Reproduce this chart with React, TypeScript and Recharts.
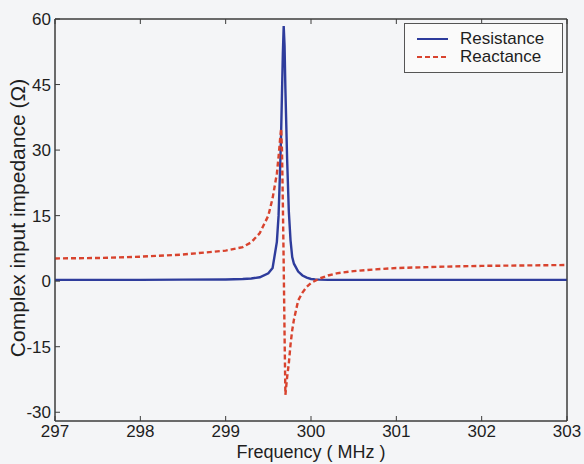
import React from 'react';
import { LineChart, Line, XAxis, YAxis, Legend, Label, ReferenceArea } from 'recharts';

// frequency samples (MHz) and values (ohms)
const freq = [
  297, 297.5, 298, 298.5, 299, 299.2, 299.3, 299.4, 299.5, 299.55, 299.6, 299.62, 299.64,
  299.65, 299.66, 299.67, 299.68, 299.69, 299.7, 299.72, 299.74, 299.76, 299.78, 299.8,
  299.85, 299.9, 299.95, 300, 300.05, 300.1, 300.2, 300.3, 300.5, 300.75, 301, 301.5, 302,
  302.5, 303,
];
const resistance = [
  0.3, 0.3, 0.3, 0.35, 0.4, 0.5, 0.6, 0.9, 1.8, 3, 9, 15, 27,
  34, 43, 52, 58.4, 54, 44, 28, 16, 9.4, 5.5, 4,
  2.2, 1.3, 0.8, 0.5, 0.4, 0.35, 0.3, 0.3, 0.3, 0.3, 0.3, 0.3, 0.3,
  0.3, 0.3,
];
const reactance = [
  5.2, 5.3, 5.6, 6.1, 7.0, 7.8, 8.9, 11.0, 15.0, 19.0, 24.6, 28.5, 33.0,
  34.9, 30, 18, 4, -12, -26, -22, -18.8, -14.5, -11.2, -8.8,
  -4.4, -2.6, -1.3, -0.4, 0.1, 0.6, 1.3, 1.8, 2.3, 2.7, 3.0, 3.3, 3.5,
  3.6, 3.7,
];
const seriesNames = ['Resistance', 'Reactance'];
const xTicks = [297, 298, 299, 300, 301, 302, 303];
const yTicks = [-30, -15, 0, 15, 30, 45, 60];

const data = freq.map((f, i) => ({ f, res: resistance[i], rea: reactance[i] }));

const AXIS = '#3c3c3c';
const TEXT = '#1e1e1e';
const FONT = '"Liberation Sans", Arial, sans-serif';
const BLUE = '#2e3c9c';
const RED = '#d8432e';
const legendItems = [
  { name: seriesNames[0], color: BLUE, dash: undefined },
  { name: seriesNames[1], color: RED, dash: '5 3' },
];

const BottomTick = ({ x, y, payload }: any) => (
  <g>
    <line x1={x} y1={y} x2={x} y2={y - 5} stroke={AXIS} />
    <text x={x} y={y + 16} textAnchor="middle" fontSize={17} fill={TEXT} fontFamily={FONT}>
      {payload.value}
    </text>
  </g>
);

const LeftTick = ({ x, y, payload }: any) => (
  <g>
    <line x1={x} y1={y} x2={x + 5} y2={y} stroke={AXIS} />
    <text x={x - 4} y={y + 6} textAnchor="end" fontSize={17} fill={TEXT} fontFamily={FONT}>
      {payload.value}
    </text>
  </g>
);

const TopTick = ({ x, y }: any) => <line x1={x} y1={y} x2={x} y2={y + 5} stroke={AXIS} />;
const RightTick = ({ x, y }: any) => <line x1={x} y1={y} x2={x - 5} y2={y} stroke={AXIS} />;

const renderLegend = () => (
  <div
    style={{
      width: 157,
      height: 48,
      border: '1px solid #555',
      background: '#fafafa',
      fontFamily: FONT,
      fontSize: 17,
      lineHeight: '18px',
      color: TEXT,
    }}
  >
    {legendItems.map((p, i) => (
      <div key={p.name} style={{ display: 'flex', alignItems: 'center', height: 18, marginTop: i === 0 ? 6 : 0 }}>
        <svg width={55} height={10}>
          <line x1={12} y1={5} x2={43} y2={5} stroke={p.color} strokeWidth={2} strokeDasharray={p.dash} />
        </svg>
        <span>{p.name}</span>
      </div>
    ))}
  </div>
);

export default function App() {
  return (
    <div style={{ position: 'absolute', left: 0, top: 0, width: 584, height: 464, background: '#f4f5f7' }}>
      <LineChart width={584} height={464} data={data} margin={{ top: 18, right: 16, bottom: 0, left: 0 }}>
        <XAxis
          dataKey="f"
          type="number"
          domain={[297, 303]}
          ticks={xTicks}
          height={43}
          stroke={AXIS}
          tickLine={false}
          tickSize={0}
          tickMargin={0}
          tick={BottomTick}
          interval={0}
        >
          <Label
            content={({ viewBox }: any) => (
              <text
                x={viewBox.x + viewBox.width / 2}
                y={458}
                textAnchor="middle"
                fontSize={18}
                fill={TEXT}
                fontFamily={FONT}
              >
                Frequency ( MHz )
              </text>
            )}
          />
        </XAxis>
        <XAxis
          xAxisId="top"
          orientation="top"
          dataKey="f"
          type="number"
          domain={[297, 303]}
          ticks={xTicks}
          height={1}
          stroke={AXIS}
          tickLine={false}
          tickSize={0}
          tickMargin={0}
          tick={TopTick}
          interval={0}
        />
        <YAxis
          type="number"
          domain={[-32, 60]}
          ticks={yTicks}
          width={55}
          stroke={AXIS}
          tickLine={false}
          tickSize={0}
          tickMargin={0}
          tick={LeftTick}
          interval={0}
        >
          <Label
            content={({ viewBox }: any) => {
              const cy = viewBox.y + viewBox.height / 2 - 2;
              return (
                <text
                  x={25}
                  y={cy}
                  transform={`rotate(-90 25 ${cy})`}
                  textAnchor="middle"
                  fontSize={21}
                  fill={TEXT}
                  fontFamily={FONT}
                >
                  Complex input impedance (Ω)
                </text>
              );
            }}
          />
        </YAxis>
        <YAxis
          yAxisId="right"
          orientation="right"
          type="number"
          domain={[-32, 60]}
          ticks={yTicks}
          width={1}
          stroke={AXIS}
          tickLine={false}
          tickSize={0}
          tickMargin={0}
          tick={RightTick}
          interval={0}
        />
        <ReferenceArea x1={297} x2={303} y1={-32} y2={60} fill="none" stroke={AXIS} strokeWidth={1} />
        <Legend
          layout="vertical"
          align="center"
          verticalAlign="middle"
          content={renderLegend}
          wrapperStyle={{ left: 404, top: 23, width: 159, height: 50 }}
        />
        <Line
          type="linear"
          dataKey="res"
          name={seriesNames[0]}
          stroke={BLUE}
          strokeWidth={2.4}
          dot={false}
          isAnimationActive={false}
        />
        <Line
          type="linear"
          dataKey="rea"
          name={seriesNames[1]}
          stroke={RED}
          strokeWidth={2.4}
          strokeDasharray="5 3"
          dot={false}
          isAnimationActive={false}
        />
      </LineChart>
    </div>
  );
}
